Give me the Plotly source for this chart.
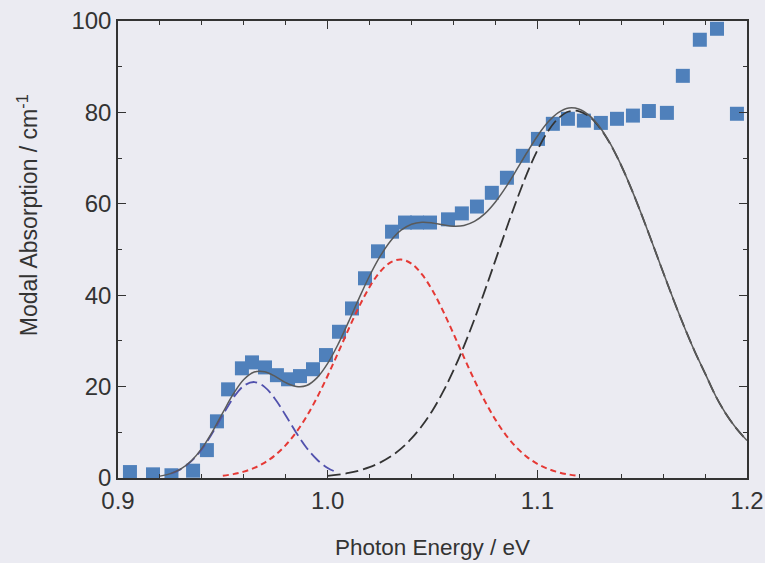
import plotly.graph_objects as go

# Measured modal absorption (squares)
energy = [0.9057, 0.9167, 0.9255, 0.9358, 0.9424, 0.9472, 0.9525, 0.9591, 0.9639, 0.9701,
          0.9758, 0.9811, 0.9868, 0.9930, 0.9992, 1.0054, 1.0116, 1.0178, 1.0240, 1.0307,
          1.0369, 1.0426, 1.0488, 1.0574, 1.0640, 1.0712, 1.0783, 1.0855, 1.0931, 1.1003,
          1.1074, 1.1146, 1.1222, 1.1303, 1.1380, 1.1456, 1.1532, 1.1618, 1.1694, 1.1775,
          1.1857, 1.1952]
absorption = [1.3, 0.8, 0.6, 1.6, 6.1, 12.4, 19.4, 24.0, 25.3, 24.2,
              22.5, 21.6, 22.3, 23.8, 26.9, 32.0, 37.1, 43.7, 49.6, 53.9,
              55.9, 55.9, 55.9, 56.6, 57.9, 59.4, 62.4, 65.7, 70.5, 74.2,
              77.5, 78.6, 78.2, 77.7, 78.6, 79.3, 80.3, 79.9, 88.0, 95.9,
              98.3, 79.7]

# Fit component 1 (blue dashed)
e_blue = [0.925, 0.930, 0.935, 0.940, 0.945, 0.950, 0.955, 0.960, 0.965, 0.970,
          0.975, 0.980, 0.985, 0.990, 0.995, 1.000, 1.005]
a_blue = [0.93, 1.94, 3.69, 6.32, 9.82, 13.80, 17.54, 20.17, 21.0, 19.89,
          17.25, 13.68, 9.92, 6.57, 3.99, 2.21, 1.12]

# Fit component 2 (red dashed)
e_red = [0.950, 0.955, 0.960, 0.965, 0.970, 0.975, 0.980, 0.985, 0.990, 0.995,
         1.000, 1.005, 1.010, 1.015, 1.020, 1.025, 1.030, 1.035, 1.040, 1.045,
         1.050, 1.055, 1.060, 1.065, 1.070, 1.075, 1.080, 1.085, 1.090, 1.095,
         1.100, 1.105, 1.110, 1.115, 1.120]
a_red = [0.50, 0.85, 1.39, 2.20, 3.37, 5.00, 7.19, 10.02, 13.52, 17.67,
         22.38, 27.44, 32.60, 37.51, 41.81, 45.13, 47.18, 47.8, 46.89, 44.55,
         41.02, 36.57, 31.58, 26.41, 21.40, 16.79, 12.77, 9.40, 6.71, 4.63,
         3.10, 2.01, 1.26, 0.77, 0.45]

# Fit component 3 (black long dash)
e_black = [1.000, 1.005, 1.010, 1.015, 1.020, 1.025, 1.030, 1.035, 1.040, 1.045,
           1.050, 1.055, 1.060, 1.065, 1.070, 1.075, 1.080, 1.085, 1.090, 1.095,
           1.100, 1.105, 1.110, 1.115, 1.120, 1.125, 1.130, 1.135, 1.140, 1.145,
           1.150, 1.155, 1.160, 1.165, 1.170, 1.175, 1.180, 1.185, 1.190, 1.195,
           1.200]
a_black = [0.48, 0.73, 1.10, 1.63, 2.36, 3.36, 4.69, 6.42, 8.65, 11.42,
           14.79, 18.84, 23.53, 28.85, 34.74, 41.05, 47.63, 54.24, 60.64, 66.54,
           71.69, 75.81, 78.70, 80.20, 80.25, 78.99, 76.51, 72.92, 68.38, 63.11,
           57.31, 51.21, 45.02, 38.95, 33.16, 27.78, 22.90, 18.0, 14.0, 10.8,
           8.2]

# Total fit (solid grey)
e_total = [0.920, 0.925, 0.930, 0.935, 0.940, 0.945, 0.950, 0.955, 0.960, 0.965,
           0.970, 0.975, 0.980, 0.985, 0.990, 0.995, 1.000, 1.005, 1.010, 1.015,
           1.020, 1.025, 1.030, 1.035, 1.040, 1.045, 1.050, 1.055, 1.060, 1.065,
           1.070, 1.075, 1.080, 1.085, 1.090, 1.095, 1.100, 1.105, 1.110, 1.115,
           1.120, 1.125, 1.130, 1.135, 1.140, 1.145, 1.150, 1.155, 1.160, 1.165,
           1.170, 1.175, 1.180, 1.185, 1.190, 1.195, 1.200]
a_total = [0.41, 0.95, 1.99, 3.78, 6.48, 10.11, 14.30, 18.39, 21.56, 23.20,
           23.26, 22.25, 20.87, 20.04, 20.24, 21.96, 25.07, 29.29, 34.22, 39.36,
           44.26, 48.49, 51.87, 54.22, 55.54, 55.97, 55.81, 55.41, 55.11, 55.26,
           56.14, 57.84, 60.40, 63.64, 67.35, 71.17, 74.79, 77.82, 79.96, 80.97,
           80.70, 79.24, 76.64, 72.99, 68.41, 63.11, 57.31, 51.21, 45.02, 38.95,
           33.16, 27.78, 22.90, 18.0, 14.0, 10.8, 8.2]

x_ticks = [0.9, 1.0, 1.1, 1.2]
x_ticktext = ["0.9", "1.0", "1.1", "1.2"]
y_ticks = [0, 20, 40, 60, 80, 100]

BG = "#ebebf2"
AX = "#333333"
FONT = "Liberation Sans, Arial, sans-serif"

fig = go.Figure()
fig.add_trace(go.Scatter(x=energy, y=absorption, mode="markers",
                         marker=dict(symbol="square", size=14, color="#4f80bb",
                                     line=dict(width=0)),
                         showlegend=False))
fig.add_trace(go.Scatter(x=e_blue, y=a_blue, mode="lines", line_shape="spline",
                         line=dict(color="#5151ad", width=1.8, dash="12px,5px"),
                         showlegend=False))
fig.add_trace(go.Scatter(x=e_red, y=a_red, mode="lines", line_shape="spline",
                         line=dict(color="#e53935", width=2, dash="6px,4px"),
                         showlegend=False))
fig.add_trace(go.Scatter(x=e_black, y=a_black, mode="lines", line_shape="spline",
                         line=dict(color="#333333", width=1.8, dash="13px,5px"),
                         showlegend=False))
fig.add_trace(go.Scatter(x=e_total, y=a_total, mode="lines", line_shape="spline",
                         line=dict(color="#5a5a5a", width=1.5),
                         showlegend=False))

fig.update_layout(
    width=765, height=563,
    paper_bgcolor=BG, plot_bgcolor=BG,
    margin=dict(l=118, r=18, t=21, b=85, autoexpand=False),
    font=dict(family=FONT, color=AX, size=20),
    xaxis=dict(range=[0.9, 1.2], tickvals=x_ticks, ticktext=x_ticktext,
               ticks="inside", ticklen=8, tickcolor=AX, tickwidth=1.2,
               showline=True, linecolor=AX, linewidth=1.5, mirror="ticks",
               showgrid=False, zeroline=False,
               minor=dict(dtick=0.02, tick0=0.9, ticks="inside", ticklen=4,
                          tickcolor=AX, showgrid=False),
               tickfont=dict(size=24, color=AX),
               title=dict(text="Photon Energy / eV", font=dict(size=22.5, color=AX), standoff=27)),
    yaxis=dict(range=[0, 100], tickvals=y_ticks,
               ticks="inside", ticklen=8, tickcolor=AX, tickwidth=1.2,
               showline=True, linecolor=AX, linewidth=1.5, mirror="ticks",
               showgrid=False, zeroline=False,
               minor=dict(dtick=10, tick0=0, ticks="inside", ticklen=4,
                          tickcolor=AX, showgrid=False),
               tickfont=dict(size=24, color=AX)),
    annotations=[dict(text="Modal Absorption / cm<sup>-1</sup>", textangle=-90,
                      xref="paper", yref="paper", x=-0.143, y=0.575,
                      xanchor="center", yanchor="middle", showarrow=False,
                      font=dict(size=23, color=AX))],
)

fig.write_html("out.html", config={"displayModeBar": False},
               post_script="document.body.style.margin='0';document.body.style.background='%s';" % BG)
